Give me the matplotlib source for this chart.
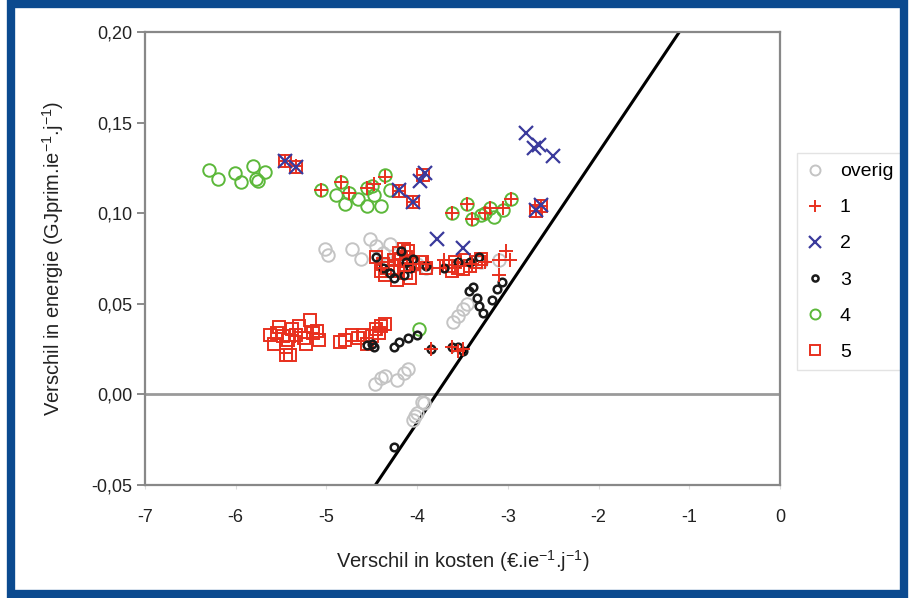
import matplotlib.pyplot as plt
from matplotlib.patches import Rectangle
from matplotlib.ticker import FuncFormatter

plt.rcParams['font.family'] = ['Liberation Sans', 'DejaVu Sans']
plt.rcParams['axes.unicode_minus'] = False

# overig (grey circles)
overig_x = [-5.02, -4.98, -4.72, -4.62, -4.52, -4.45, -4.38, -4.30, -4.22,
            -4.00, -3.90, -3.30, -3.10,
            -3.60, -3.55, -3.50, -3.45,
            -4.47, -4.40, -4.35, -4.22, -4.15, -4.10,
            -3.95, -3.92, -4.00, -4.05, -4.02]
overig_y = [0.080, 0.077, 0.080, 0.075, 0.086, 0.082, 0.078, 0.083, 0.075,
            0.072, 0.070, 0.073, 0.074,
            0.040, 0.043, 0.047, 0.050,
            0.006, 0.009, 0.010, 0.008, 0.012, 0.014,
            -0.004, -0.005, -0.010, -0.014, -0.012]

# 1 (red plus)
s1_x = [-5.46, -5.33, -5.06, -4.84, -4.75, -4.55, -4.48, -4.35, -4.20, -4.05, -3.93,
        -3.62, -3.45, -3.40, -3.25, -3.20, -3.05, -2.97, -2.69, -2.64,
        -4.40, -4.25, -4.15, -4.05, -3.90, -3.75, -3.70, -3.55, -3.40, -3.25,
        -3.10, -3.02, -2.98, -3.10,
        -3.85, -3.62, -3.55, -3.50, -5.35, -5.15, -4.40]
s1_y = [0.129, 0.126, 0.113, 0.117, 0.111, 0.114, 0.116, 0.120, 0.112, 0.106, 0.121,
        0.100, 0.105, 0.097, 0.100, 0.103, 0.103, 0.108, 0.101, 0.104,
        0.070, 0.074, 0.068, 0.072, 0.072, 0.070, 0.074, 0.071, 0.072, 0.073,
        0.074, 0.079, 0.074, 0.066,
        0.025, 0.026, 0.024, 0.025, 0.032, 0.034, 0.036]

# 2 (blue crosses)
s2_x = [-5.46, -5.33, -4.20, -4.05, -3.97, -3.91, -3.78, -3.49,
        -2.80, -2.71, -2.66, -2.50, -2.69, -2.63]
s2_y = [0.129, 0.1255, 0.113, 0.106, 0.118, 0.122, 0.086, 0.081,
        0.144, 0.136, 0.1376, 0.1316, 0.1018, 0.1045]

# 3 (small black circles)
s3_x = [-4.45, -4.38, -4.30, -4.18, -4.12, -4.08, -3.90, -3.70, -3.55, -3.42, -3.32,
        -4.25, -4.15, -4.05,
        -3.43, -3.38, -3.34, -3.32, -3.27, -3.18, -3.12, -3.07,
        -4.55, -4.50, -4.48, -4.25, -4.20, -4.10, -4.00,
        -3.85, -3.62, -3.55, -3.50, -4.25]
s3_y = [0.076, 0.070, 0.067, 0.079, 0.073, 0.070, 0.071, 0.070, 0.073, 0.073, 0.076,
        0.064, 0.066, 0.075,
        0.057, 0.059, 0.053, 0.049, 0.045, 0.052, 0.058, 0.062,
        0.027, 0.028, 0.026, 0.026, 0.029, 0.031, 0.033,
        0.025, 0.026, 0.026, 0.024, -0.029]

# 4 (green circles)
s4_x = [-6.30, -6.20, -6.01, -5.94, -5.78, -5.81, -5.68, -5.75,
        -5.06, -4.84, -4.75, -4.90, -4.80, -4.65, -4.55, -4.50, -4.48, -4.40,
        -4.35, -4.30, -4.55,
        -3.62, -3.45, -3.40, -3.25, -3.20, -3.15, -3.05, -2.97, -3.30,
        -3.98]
s4_y = [0.124, 0.119, 0.122, 0.117, 0.119, 0.126, 0.123, 0.118,
        0.113, 0.117, 0.111, 0.110, 0.105, 0.108, 0.114, 0.115, 0.110, 0.104,
        0.121, 0.113, 0.104,
        0.100, 0.105, 0.097, 0.100, 0.103, 0.098, 0.102, 0.108, 0.099,
        0.036]

# 5 (red squares)
s5_x = [-5.46, -5.33, -4.20, -4.05, -3.93, -2.69, -2.64,
        -4.45, -4.38, -4.32, -4.35, -4.25, -4.20, -4.15, -4.12, -4.15, -4.12,
        -4.05, -4.08, -3.95, -3.90, -4.28, -4.22, -4.18, -4.10, -4.40,
        -3.65, -3.58, -3.55, -3.48, -3.42, -3.35, -3.30, -3.50, -3.62,
        -5.62, -5.58, -5.52, -5.48, -5.45, -5.42, -5.38, -5.33, -5.30, -5.25,
        -5.22, -5.18, -5.15, -5.10, -5.08, -5.45, -5.40, -5.55,
        -4.85, -4.80, -4.72, -4.65, -4.60, -4.55, -4.50, -4.45, -4.40, -4.35, -4.42]
s5_y = [0.129, 0.1255, 0.112, 0.106, 0.121, 0.101, 0.104,
        0.076, 0.072, 0.070, 0.066, 0.074, 0.078, 0.080, 0.076, 0.071, 0.067,
        0.072, 0.064, 0.073, 0.070, 0.068, 0.063, 0.075, 0.079, 0.068,
        0.071, 0.073, 0.070, 0.074, 0.071, 0.073, 0.075, 0.069, 0.068,
        0.033, 0.028, 0.037, 0.032, 0.026, 0.030, 0.036, 0.033, 0.038, 0.031,
        0.028, 0.041, 0.034, 0.035, 0.030, 0.022, 0.022, 0.034,
        0.029, 0.030, 0.033, 0.031, 0.033, 0.028, 0.032, 0.036, 0.038, 0.039, 0.034]

# boundary line
line_x = [-4.46, -1.11]
line_y = [-0.05, 0.20]

fig = plt.figure(figsize=(9.11, 5.98), dpi=100)
ax = fig.add_axes([145 / 911, 1 - 485 / 598, 635 / 911, 453 / 598])

ax.axhline(0, color='#9a9a9a', lw=2, zorder=1)
ax.plot(line_x, line_y, color='black', lw=2.2, zorder=2)

red = '#e8301e'
ax.plot(overig_x, overig_y, 'o', ms=9, mfc='none', mec='#c4c4c4', mew=1.4,
        label='overig', zorder=3)
ax.plot(s4_x, s4_y, 'o', ms=9, mfc='none', mec='#5cb83a', mew=1.4,
        label='4', zorder=4)
ax.plot(s5_x, s5_y, 's', ms=8.5, mfc='none', mec=red, mew=1.4,
        label='5', zorder=5)
ax.plot(s3_x, s3_y, 'o', ms=5.5, mfc='none', mec='#1a1a1a', mew=1.8,
        label='3', zorder=6)
ax.plot(s1_x, s1_y, '+', ms=10, mec=red, mew=1.4, label='1', zorder=7)
ax.plot(s2_x, s2_y, 'x', ms=10, mec='#3a3a9c', mew=1.6, label='2', zorder=8)

ax.set_xlim(-7, 0)
ax.set_ylim(-0.05, 0.20)
ax.set_xticks(range(-7, 1))
ax.set_yticks([-0.05, 0, 0.05, 0.10, 0.15, 0.20])
ax.yaxis.set_major_formatter(FuncFormatter(lambda v, p: f'{v:.2f}'.replace('.', ',')))
ax.tick_params(axis='both', labelsize=13, colors='#222222')
ax.tick_params(axis='y', length=6, width=1.2, color='#777777', pad=3)
ax.tick_params(axis='x', length=3, width=0.8, color='#dddddd', pad=14)
for s in ax.spines.values():
    s.set_color('#888888')
    s.set_linewidth(1.6)

ax.set_xlabel('Verschil in kosten (€.ie$\\mathregular{^{-1}}$.j$\\mathregular{^{-1}}$)',
              fontsize=14.5, color='#222222', labelpad=16)
ax.set_ylabel('Verschil in energie (GJprim.ie$\\mathregular{^{-1}}$.j$\\mathregular{^{-1}}$)',
              fontsize=14.5, color='#222222', labelpad=18)

handles, labels = ax.get_legend_handles_labels()
order = [labels.index(k) for k in ['overig', '1', '2', '3', '4', '5']]
leg = fig.legend([handles[i] for i in order], [labels[i] for i in order],
                 loc='upper left', bbox_to_anchor=(797 / 911, 1 - 153 / 598),
                 fontsize=14, frameon=True, fancybox=False, handlelength=0.9,
                 handletextpad=0.8, labelspacing=0.95, borderpad=0.5,
                 borderaxespad=0, markerscale=0.8)
leg.get_frame().set_edgecolor('#dddddd')
leg.get_frame().set_linewidth(1)

# blue outer frame
fig.patches.append(Rectangle((11 / 911, 4 / 598), 893 / 911, 590 / 598,
                             transform=fig.transFigure, fill=False,
                             edgecolor='#0b4a8f', linewidth=6, zorder=10))

fig.savefig('out.png', dpi=100)
